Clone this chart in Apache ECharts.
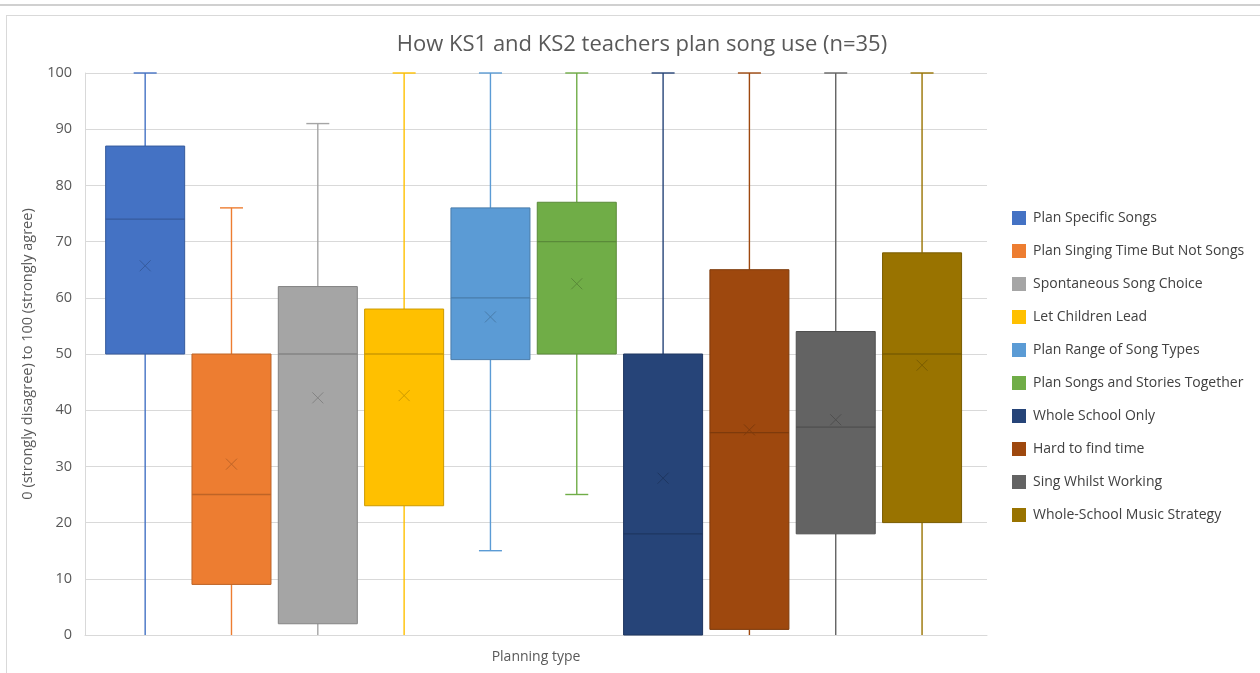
<!DOCTYPE html>
<html>
<head>
<meta charset="utf-8">
<title>How KS1 and KS2 teachers plan song use</title>
<script src="https://cdn.jsdelivr.net/npm/echarts@6/dist/echarts.min.js"></script>
<style>
  html, body { margin: 0; padding: 0; background: #ffffff; }
  #wrap { position: relative; width: 1260px; height: 673px; overflow: hidden; }
  #topRule { position: absolute; left: 0; top: 4px; width: 1260px; height: 2px; background: #d0d0d0; }
  #frame { position: absolute; left: 6px; top: 15px; width: 1400px; height: 800px; border: 1px solid #d9d9d9; }
  #chart { position: absolute; left: 0; top: 0; width: 1260px; height: 673px; }
</style>
</head>
<body>
<div id="wrap">
  <div id="topRule"></div>
  <div id="frame"></div>
  <div id="chart"></div>
</div>
<script>
// Planning types, one box per type
const seriesNames = [
  'Plan Specific Songs',
  'Plan Singing Time But Not Songs',
  'Spontaneous Song Choice',
  'Let Children Lead',
  'Plan Range of Song Types',
  'Plan Songs and Stories Together',
  'Whole School Only',
  'Hard to find time',
  'Sing Whilst Working',
  'Whole-School Music Strategy'
];
const seriesColors = [
  '#4472C4', '#ED7D31', '#A5A5A5', '#FFC000', '#5B9BD5',
  '#70AD47', '#264478', '#9E480E', '#636363', '#997300'
];
// Five-number summaries plus mean (0-100 agreement scale)
const minValues    = [0, 0, 0, 0, 15, 25, 0, 0, 0, 0];
const q1Values     = [50, 9, 2, 23, 49, 50, 0, 1, 18, 20];
const medianValues = [74, 25, 50, 50, 60, 70, 18, 36, 37, 50];
const q3Values     = [87, 50, 62, 58, 76, 77, 50, 65, 54, 68];
const maxValues    = [100, 76, 91, 100, 100, 100, 100, 100, 100, 100];
const meanValues   = [65.7, 30.4, 42.2, 42.6, 56.6, 62.5, 27.9, 36.5, 38.3, 48.0];

const categories = ['Planning type'];
const yTicks = { min: 0, max: 100, interval: 10 };

function darken(hex, f) {
  const n = parseInt(hex.slice(1), 16);
  const r = Math.round(((n >> 16) & 255) * f);
  const g = Math.round(((n >> 8) & 255) * f);
  const b = Math.round((n & 255) * f);
  return 'rgb(' + r + ',' + g + ',' + b + ')';
}

function makeRenderer(idx) {
  return function (params, api) {
    const color = seriesColors[idx];
    const edge = darken(color, 0.8);
    const cx = api.coord([api.value(0), 0])[0];
    const band = api.size([1, 0])[0];
    // boxes sit side by side inside the single category band
    const pitch = band * 0.0957;
    const bw = band * 0.0876;
    const left = cx - band / 2 + band * 0.0229 + idx * pitch;
    const mid = left + bw / 2;
    const y = v => api.coord([api.value(0), v])[1];
    const vMin = api.value(1), vQ1 = api.value(2), vMed = api.value(3),
          vQ3 = api.value(4), vMax = api.value(5), vMean = api.value(6);
    const capHalf = 11.5;
    const whisker = { stroke: color, lineWidth: 1.4 };
    const children = [];
    if (vMax > vQ3) {
      children.push({ type: 'line', shape: { x1: mid, y1: y(vQ3), x2: mid, y2: y(vMax) }, style: whisker });
      children.push({ type: 'line', shape: { x1: mid - capHalf, y1: y(vMax), x2: mid + capHalf, y2: y(vMax) }, style: whisker });
    }
    if (vMin < vQ1) {
      children.push({ type: 'line', shape: { x1: mid, y1: y(vQ1), x2: mid, y2: y(vMin) }, style: whisker });
      if (vMin > yTicks.min) {
        children.push({ type: 'line', shape: { x1: mid - capHalf, y1: y(vMin), x2: mid + capHalf, y2: y(vMin) }, style: whisker });
      }
    }
    const top = y(vQ3), bottom = y(vQ1);
    children.push({
      type: 'rect',
      shape: { x: left, y: top, width: bw, height: bottom - top },
      style: { fill: color, stroke: edge, lineWidth: 1 }
    });
    children.push({
      type: 'line',
      shape: { x1: left, y1: y(vMed), x2: left + bw, y2: y(vMed) },
      style: { stroke: edge, lineWidth: 1.3 }
    });
    const my = y(vMean), s = 5.5;
    children.push({ type: 'line', shape: { x1: mid - s, y1: my - s, x2: mid + s, y2: my + s }, style: { stroke: edge, lineWidth: 1 } });
    children.push({ type: 'line', shape: { x1: mid - s, y1: my + s, x2: mid + s, y2: my - s }, style: { stroke: edge, lineWidth: 1 } });
    return { type: 'group', children: children };
  };
}

const series = seriesNames.map((name, i) => ({
  name: name,
  type: 'custom',
  itemStyle: { color: seriesColors[i] },
  renderItem: makeRenderer(i),
  encode: { x: 0, y: [1, 2, 3, 4, 5, 6] },
  data: [[0, minValues[i], q1Values[i], medianValues[i], q3Values[i], maxValues[i], meanValues[i]]]
}));

const chart = echarts.init(document.getElementById('chart'), null, { renderer: 'canvas' });
chart.setOption({
  animation: false,
  textStyle: { fontFamily: '"Open Sans", "Noto Sans", sans-serif' },
  title: {
    text: 'How KS1 and KS2 teachers plan song use (n=35)',
    left: 637,
    textAlign: 'center',
    top: 29,
    textStyle: { fontSize: 22, fontWeight: 'normal', color: '#595959', fontFamily: '"Open Sans", sans-serif' }
  },
  legend: {
    orient: 'vertical',
    left: 1007,
    top: 206,
    itemWidth: 14,
    itemHeight: 14,
    itemGap: 19,
    icon: 'rect',
    data: seriesNames,
    textStyle: { fontSize: 14, color: '#404040', padding: [0, 0, 0, 2] }
  },
  grid: { left: 85, right: 273, top: 73, bottom: 38 },
  xAxis: {
    type: 'category',
    data: categories,
    boundaryGap: true,
    axisTick: { show: false },
    axisLine: { lineStyle: { color: '#d9d9d9', width: 1 } },
    axisLabel: { color: '#595959', fontSize: 14, margin: 15 },
    splitLine: { show: false }
  },
  yAxis: {
    type: 'value',
    min: yTicks.min,
    max: yTicks.max,
    interval: yTicks.interval,
    name: '0 (strongly disagree) to 100 (strongly agree)',
    nameLocation: 'middle',
    nameGap: 50,
    nameTextStyle: { color: '#595959', fontSize: 14.5 },
    axisLine: { show: true, lineStyle: { color: '#d9d9d9' } },
    axisTick: { show: false },
    axisLabel: { color: '#595959', fontSize: 14.5, margin: 13 },
    splitLine: { lineStyle: { color: '#d9d9d9', width: 1 } }
  },
  series: series
});
</script>
</body>
</html>
